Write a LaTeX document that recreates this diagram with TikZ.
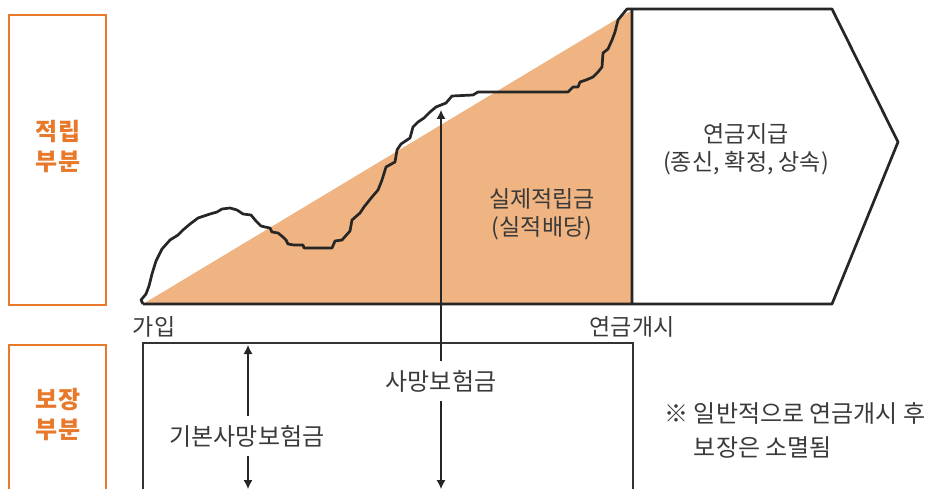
\documentclass[tikz,border=0pt]{standalone}
\usepackage{fontspec}
\newfontfamily\kr{Noto Sans CJK KR}
\usetikzlibrary{arrows.meta}
\definecolor{partorange}{HTML}{E8782A}
\definecolor{fundorange}{HTML}{F0B482}
\definecolor{txtgray}{HTML}{3A3A3A}
\tikzset{
  partbox/.style={draw=partorange, line width=2.5pt},
  parttext/.style={text=partorange, font=\kr\bfseries\fontsize{24}{30}\selectfont, align=center},
  plaintext/.style={text=txtgray, font=\kr\fontsize{23}{28}\selectfont, align=center},
  heavy/.style={line width=2.7pt, line join=round, draw=black!85},
  dimarrow/.style={{Latex[length=9pt,width=9pt]}-{Latex[length=9pt,width=9pt]}, line width=1.1pt, draw=black!85},
}
\begin{document}
\begin{tikzpicture}[x=1pt, y=-1pt]
  \useasboundingbox (0,0) rectangle (933,489);

  % left labels
  \draw[partbox] (9,15) rectangle (106,305);
  \node[parttext] (save) at (58,147) {적립\\부분};
  \draw[partbox] (9,500) -- (9,345) -- (106,345) -- (106,500);
  \node[parttext] (cover) at (58,415) {보장\\부분};

  % accumulation part
  \coordinate (join) at (143,304);
  \coordinate (open) at (632,304);
  \fill[fundorange] (join) -- (632,10) -- (open) -- cycle;
  \draw[heavy] (join) -- (141,300) -- (146,294) -- (149,286) -- (152,274) -- (156,261)
    -- (162,249) -- (170,240) -- (178,235) -- (183,230) -- (190,224) -- (198,218)
    -- (210,214) -- (217,212) -- (222,209) -- (230,208) -- (237,210) -- (243,214)
    -- (251,215) -- (256,221) -- (261,226) -- (265,227) -- (270,228) -- (272,232)
    -- (278,233) -- (283,237) -- (286,240) -- (288,244) -- (294,245) -- (303,245)
    -- (304,248) -- (332,248) -- (335,241) -- (342,240) -- (350,231) -- (352,220)
    -- (360,213) -- (364,207) -- (372,197) -- (378,190) -- (382,180) -- (386,167)
    -- (395,162) -- (397,150) -- (401,144) -- (410,138) -- (413,127) -- (418,122)
    -- (424,118) -- (430,112) -- (436,107) -- (446,103) -- (452,96) -- (473,95)
    -- (478,92) -- (568,92) -- (573,87) -- (578,87) -- (580,82) -- (586,80)
    -- (593,77) -- (598,72) -- (602,67) -- (603,53) -- (608,49) -- (612,40)
    -- (615,32) -- (618,20) -- (622,15) -- (627,9) -- (632,9);

  % annuity arrow
  \draw[heavy] (open) -- (632,9) -- (832,9) -- (898,142) -- (832,304) -- (join);
  \node[plaintext] (fund) at (542,214) {실제적립금\\(실적배당)};
  \node[plaintext] (pay) at (746,149) {연금지급\\(종신, 확정, 상속)};
  \node[plaintext] (startlbl) at (154,327) {가입};
  \node[plaintext] (openlbl) at (632,327) {연금개시};

  % protection part
  \draw[line width=1.4pt, draw=black!80] (143,500) -- (143,343) -- (633,343) -- (633,500);
  \coordinate (basetop) at (248,345);
  \coordinate (basebot) at (248,489);
  \coordinate (deathtop) at (441,110);
  \coordinate (deathbot) at (441,489);
  \draw[dimarrow] (basetop) -- (basebot);
  \draw[dimarrow] (deathtop) -- (deathbot);
  \node[plaintext, fill=white, inner ysep=9pt, font=\kr\fontsize{24}{28}\selectfont] (base) at (247,436) {기본사망보험금};
  \node[plaintext, fill=white, inner ysep=9pt, font=\kr\fontsize{24}{28}\selectfont] (death) at (441,381) {사망보험금};

  \node[plaintext, align=left, anchor=west, font=\kr\fontsize{24}{34}\selectfont] (note) at (661,430)
    {※ 일반적으로 연금개시 후\\\hphantom{※} 보장은 소멸됨};
\end{tikzpicture}
\end{document}
